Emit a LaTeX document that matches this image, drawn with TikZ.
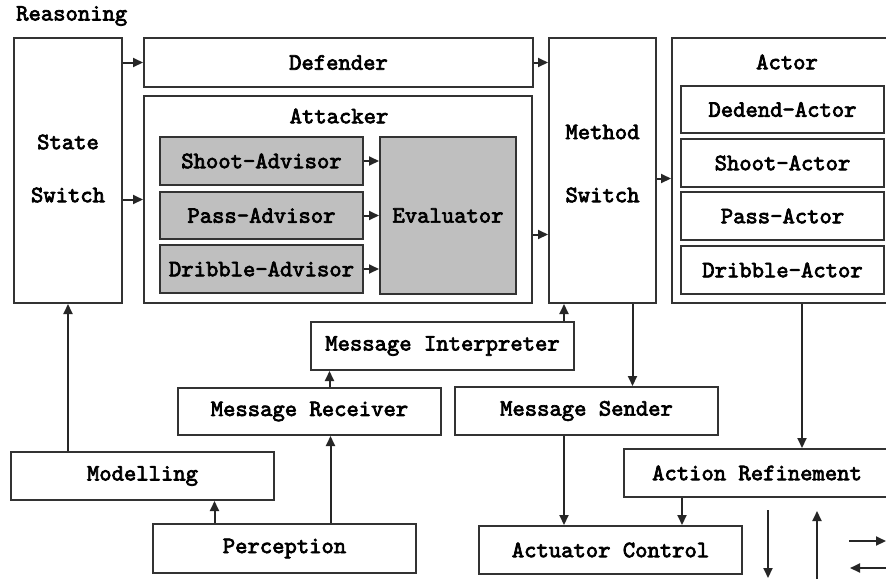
\documentclass[tikz,border=0pt]{standalone}
\usepackage{fontspec}
\setmonofont{lmmono10-regular.otf}[BoldFont=lmmono10-regular.otf, BoldFeatures={FakeBold=3}]
\usetikzlibrary{arrows.meta}
\tikzset{
	txt/.style={font=\ttfamily\bfseries\fontsize{23.5}{27}\selectfont},
	blk/.style={txt, draw=black!80, line width=2pt, inner sep=0pt},
	grayblk/.style={blk, fill=black!25},
	lbl/.style={txt, inner sep=0pt},
	sz/.style 2 args={minimum width=#1pt, minimum height=#2pt},
	arr/.style={line width=2pt, draw=black!85, -{Triangle[length=10pt,width=9pt]}}
}

\begin{document}
\begin{tikzpicture}[x=1pt,y=-1pt]
	%%%%% START %%%%%
	\useasboundingbox[fill=white] (0,0) rectangle (886,579);

	\node[lbl, anchor=west] (reason) at (16,16) {Reasoning};

	% reasoning blocks
	\node[blk, sz={108}{265}] (sw) at (68,170.5) {};
	\node[lbl] (swa) at (68,142) {State};
	\node[lbl] (swb) at (68,195) {Switch};

	\node[blk, sz={389}{49}] (def) at (338.5,62.5) {Defender};
	\node[blk, sz={388}{207}] (att) at (338,199.5) {};
	\node[lbl] (attl) at (339,116) {Attacker};

	\node[grayblk, sz={203}{48}] (sa) at (261.5,161) {Shoot-Advisor};
	\node[grayblk, sz={203}{47}] (pa) at (261.5,215.5) {Pass-Advisor};
	\node[grayblk, sz={203}{48}] (da) at (261.5,269) {Dribble-Advisor};
	\node[grayblk, sz={136}{157}] (ev) at (448,215.5) {Evaluator};

	\node[blk, sz={107}{265}] (ms) at (602.5,170.5) {};
	\node[lbl] (msa) at (602.5,132) {Method};
	\node[lbl] (msb) at (602.5,195) {Switch};

	\node[blk, sz={218}{265}] (act) at (781,170.5) {};
	\node[lbl] (actl) at (787,62) {Actor};
	\node[blk, sz={203}{47}] (da2) at (782.5,109.5) {Dedend-Actor};
	\node[blk, sz={203}{48}] (sa2) at (782.5,163) {Shoot-Actor};
	\node[blk, sz={203}{48}] (pa2) at (782.5,216) {Pass-Actor};
	\node[blk, sz={203}{48}] (dr2) at (782.5,270) {Dribble-Actor};

	% lower blocks
	\node[blk, sz={263}{48}] (mi) at (442.5,346) {Message Interpreter};
	\node[blk, sz={263}{47}] (mr) at (309.5,411.5) {Message Receiver};
	\node[blk, sz={263}{48}] (mse) at (586.5,411) {Message Sender};
	\node[blk, sz={263}{48}] (mod) at (142.5,476) {Modelling};
	\node[blk, sz={263}{49}] (per) at (284.5,548.5) {Perception};
	\node[blk, sz={266}{48}] (ar) at (757,473) {Action Refinement};
	\node[blk, sz={263}{48}] (ac) at (610.5,550) {Actuator Control};

	% arrows
	\draw[arr] (sw.east |- def.west) -- (def.west);
	\draw[arr] (sw.east |- att.west) -- (att.west);
	\draw[arr] (def.east) -- (def.east -| ms.west);
	\draw[arr] ([yshift=-35pt]att.east) -- ([yshift=-35pt]att.east -| ms.west);
	\foreach \a in {sa,pa,da}
		\draw[arr] (\a.east) -- (\a.east -| ev.west);
	\draw[arr] ([yshift=-8pt]ms.east) -- ([yshift=-8pt]ms.east -| act.west);

	\draw[arr] ([xshift=-11pt]mi.north east) -- ([xshift=-11pt]mi.north east |- ms.south);
	\draw[arr] ([xshift=30pt]ms.south) -- ([xshift=30pt]ms.south |- mse.north);
	\draw[arr] ([xshift=20pt]mr.north) -- ([xshift=20pt]mr.north |- mi.south);
	\draw[arr] ([xshift=46pt]per.north) -- ([xshift=46pt]per.north |- mr.south);
	\draw[arr] ([xshift=-70pt]per.north) -- ([xshift=-70pt]per.north |- mod.south);
	\draw[arr] (sw.south |- mod.north) -- (sw.south);
	\draw[arr] ([xshift=21pt]act.south) -- ([xshift=21pt]act.south |- ar.north);
	\draw[arr] ([xshift=-22.5pt]mse.south) -- ([xshift=-22.5pt]mse.south |- ac.north);
	\draw[arr] ([xshift=-75pt]ar.south) -- ([xshift=-75pt]ar.south |- ac.north);

	% loose arrows at the corner
	\coordinate (dn1) at (768,510);
	\coordinate (dn2) at (768,578);
	\coordinate (up1) at (817,579);
	\coordinate (up2) at (817,511);
	\coordinate (rt1) at (849,541);
	\coordinate (rt2) at (886,541);
	\coordinate (lf1) at (886,568);
	\coordinate (lf2) at (850,568);
	\draw[arr] (dn1) -- (dn2);
	\draw[arr] (up1) -- (up2);
	\draw[arr] (rt1) -- (rt2);
	\draw[arr] (lf1) -- (lf2);
	%%%%% END %%%%%
\end{tikzpicture}
\end{document}
